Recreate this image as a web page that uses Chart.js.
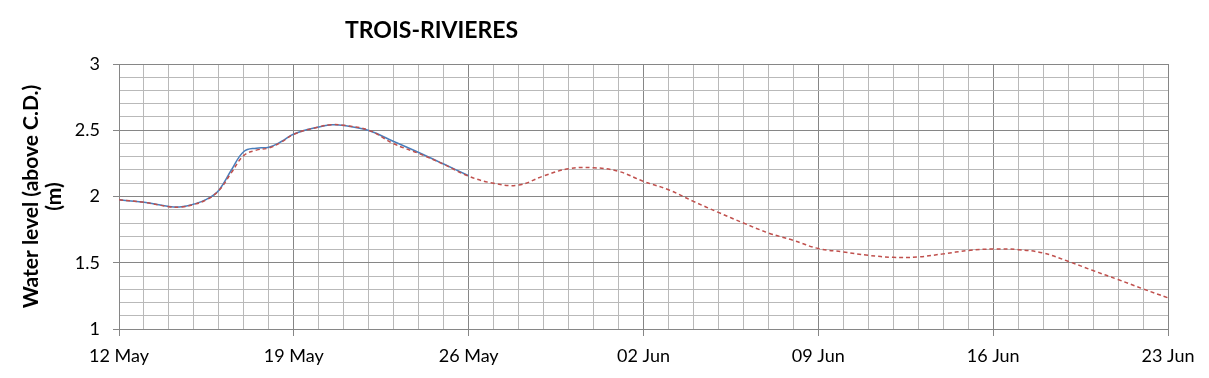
<!DOCTYPE html>
<html>
<head>
<meta charset="utf-8">
<script src="https://cdn.jsdelivr.net/npm/chart.js@4.4.1/dist/chart.umd.min.js"></script>
<style>
    body { margin: 0; background: #fff; }
    #wrap { position: relative; width: 1209px; height: 378px; }
    #title {
        position: absolute; left: 345px; top: 18px;
        font: bold 23px Lato, sans-serif; line-height: 23px; color: #000;
    }
</style>
</head>
<body>
<div id="wrap">
    <canvas id="levelChart" width="1209" height="378"></canvas>
    <div id="title">TROIS-RIVIERES</div>
</div>
<script>
// days counted from 12 May
const tickLabels = ['12 May', '19 May', '26 May', '02 Jun', '09 Jun', '16 Jun', '23 Jun'];

const obsDays = [0, 1, 2, 2.5, 3, 3.5, 4, 4.5, 5, 5.5, 6, 6.5, 7, 8, 8.5, 9, 10, 11, 12, 13, 14];
const obsLevels = [1.975, 1.956, 1.925, 1.922, 1.943, 1.978, 2.048, 2.20, 2.34, 2.365, 2.372, 2.415, 2.472, 2.525, 2.541, 2.536, 2.498, 2.415, 2.332, 2.245, 2.157];

const fcDays = [0, 1, 2, 2.5, 3, 3.5, 4, 4.5, 5, 5.5, 6, 6.5, 7, 8, 8.5, 9, 10, 11, 12, 13, 14,
    15, 16, 17, 18, 19, 20, 21, 22, 23, 24, 25, 26, 27, 28, 29, 30, 31, 32, 33, 34, 35, 36, 37, 38, 39, 40, 41, 42];
const fcLevels = [1.975, 1.956, 1.923, 1.920, 1.940, 1.975, 2.045, 2.18, 2.31, 2.35, 2.366, 2.41, 2.47, 2.525, 2.542, 2.537, 2.50, 2.398, 2.325, 2.243, 2.153,
    2.10, 2.086, 2.155, 2.21, 2.217, 2.19, 2.114, 2.051, 1.963, 1.88, 1.80, 1.725, 1.669, 1.607, 1.582, 1.556, 1.541, 1.544, 1.567, 1.592, 1.604, 1.599, 1.574, 1.511, 1.441, 1.373, 1.303, 1.235];

const toPoints = (xs, ys) => xs.map((x, i) => ({ x: x, y: ys[i] }));

const majorColor = '#868686';
const minorColor = '#b9b9b9';
const isHalf = v => Math.abs(v * 2 - Math.round(v * 2)) < 1e-6;
const labelFont = { family: 'Lato', size: 18 };

new Chart(document.getElementById('levelChart'), {
    type: 'line',
    data: {
        datasets: [{
            label: 'Forecast',
            data: toPoints(fcDays, fcLevels),
            borderColor: '#c0504d',
            borderWidth: 1.5,
            borderDash: [4, 3],
            pointRadius: 0,
            tension: 0.4
        }, {
            label: 'Observed',
            data: toPoints(obsDays, obsLevels),
            borderColor: '#4a7ebb',
            borderWidth: 1.5,
            pointRadius: 0,
            tension: 0.4
        }]
    },
    options: {
        responsive: false,
        animation: false,
        layout: { padding: { left: 0, top: 64, right: 41, bottom: 0 } },
        plugins: {
            legend: { display: false },
            tooltip: { enabled: false }
        },
        scales: {
            x: {
                type: 'linear',
                min: 0,
                max: 42,
                afterFit: scale => { scale.height = 49; },
                ticks: {
                    stepSize: 1,
                    autoSkip: false,
                    maxRotation: 0,
                    padding: 9,
                    color: '#000',
                    font: labelFont,
                    callback: v => (v % 7 === 0 ? tickLabels[v / 7] : '')
                },
                grid: {
                    color: c => (c.tick && c.tick.value % 7 === 0 ? majorColor : minorColor),
                    tickColor: c => (c.tick && c.tick.value % 7 === 0 ? majorColor : 'transparent'),
                    tickLength: 7
                },
                border: { color: majorColor }
            },
            y: {
                min: 1,
                max: 3,
                afterFit: scale => { scale.width = 119; },
                ticks: {
                    stepSize: 0.1,
                    autoSkip: false,
                    padding: 13,
                    color: '#000',
                    font: labelFont,
                    callback: v => (isHalf(v) ? String(Math.round(v * 10) / 10) : '')
                },
                grid: {
                    color: c => (c.tick && isHalf(c.tick.value) ? majorColor : minorColor),
                    tickColor: c => (c.tick && isHalf(c.tick.value) ? majorColor : 'transparent'),
                    tickLength: 6
                },
                border: { color: majorColor },
                title: {
                    display: true,
                    text: ['Water level (above C.D.)', '(m)'],
                    color: '#000',
                    font: { family: 'Lato', size: 21, weight: 'bold', lineHeight: 1.1 },
                    padding: { top: 20, bottom: 0 }
                }
            }
        }
    }
});
</script>
</body>
</html>
